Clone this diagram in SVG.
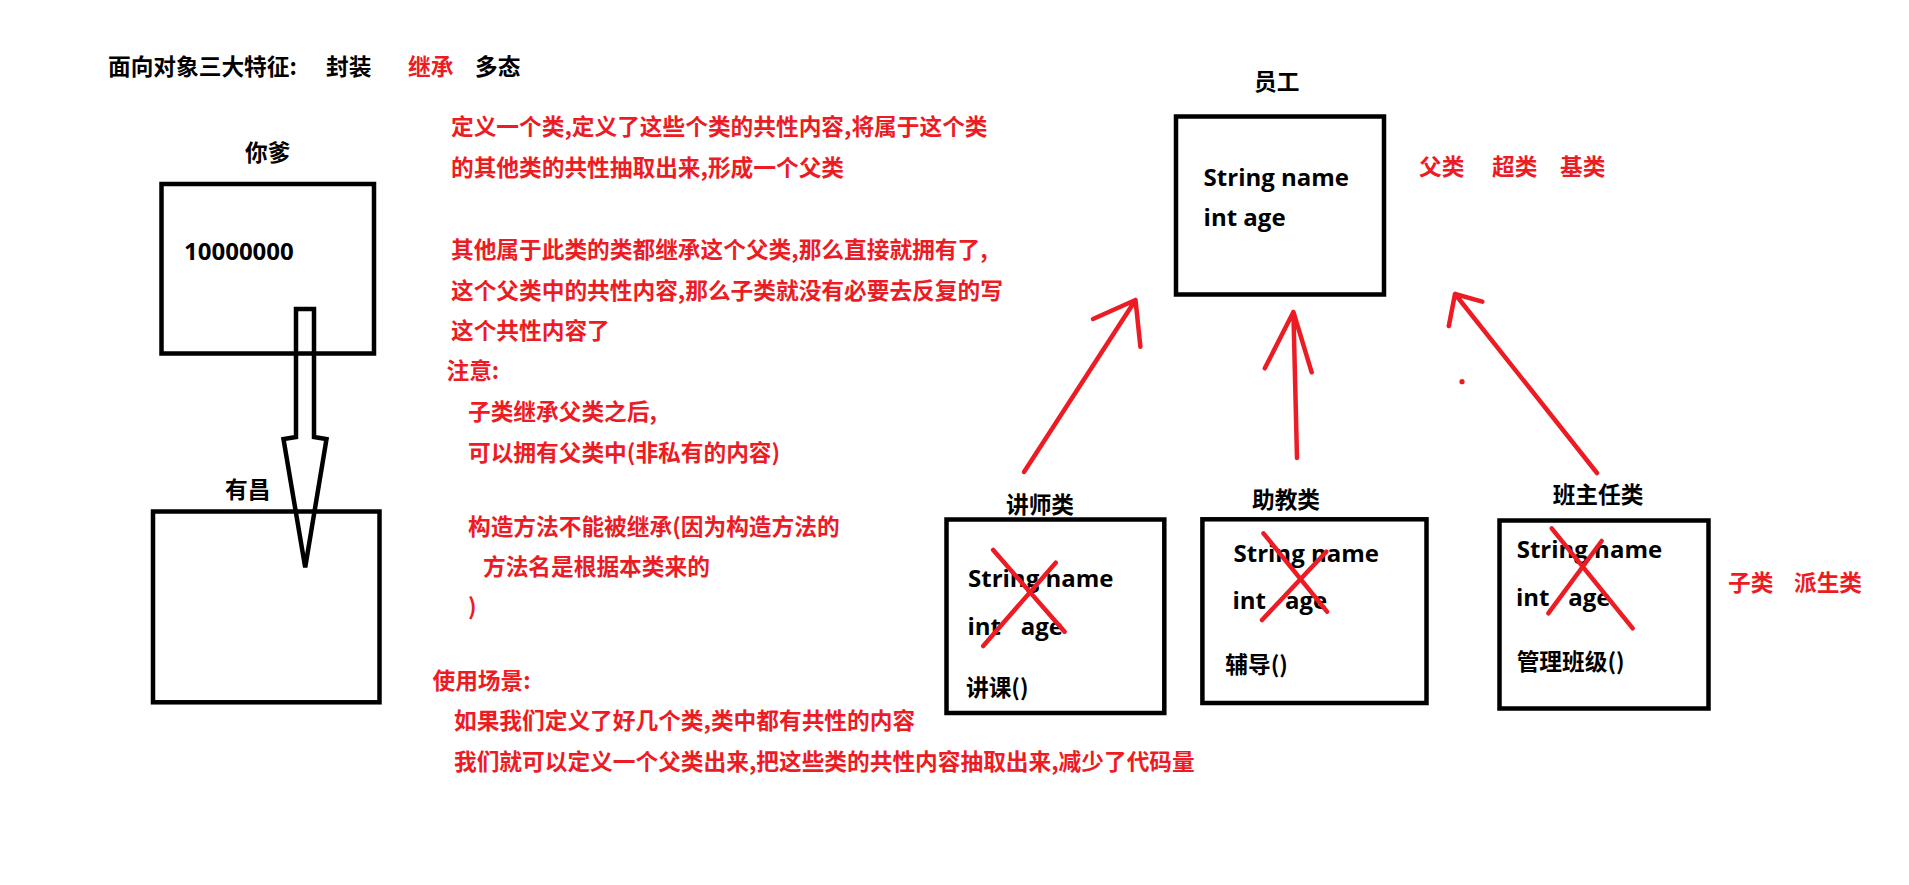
<svg xmlns="http://www.w3.org/2000/svg" width="1909" height="885" viewBox="0 0 1909 885">
<style>
.t{font-family:"Noto Sans CJK SC","Noto Sans",sans-serif;font-size:22.7px;font-weight:700}
.l{font-family:"Open Sans","Noto Sans CJK SC",sans-serif;font-size:24px;font-weight:700}
.k{fill:#000}
.r{fill:#ED1C24}
.box{fill:none;stroke:#000;stroke-width:4.5}
.rl{fill:none;stroke:#ED1C24;stroke-width:4.5;stroke-linecap:round;stroke-linejoin:round}
.bl{fill:none;stroke:#000;stroke-width:4.5;stroke-linejoin:miter}
</style>
<rect width="1909" height="885" fill="#fff"/>

<g id="title">
<text class="t k" x="108" y="75">面向对象三大特征:</text>
<text class="t k" x="326" y="75">封装</text>
<text class="t r" x="408" y="75">继承</text>
<text class="t k" x="475" y="75">多态</text>
</g>

<g id="node-nidie">
<text class="t k" x="245" y="161">你爹</text>
<rect class="box" x="161.5" y="184" width="212.5" height="169.5"/>
<text class="l k" x="184" y="260">10000000</text>
</g>

<g id="node-youchang">
<text class="t k" x="225" y="498">有昌</text>
<rect class="box" x="153" y="511.5" width="226.5" height="190.8"/>
</g>

<g id="notes">
<text class="t r" x="451" y="135">定义一个类,定义了这些个类的共性内容,将属于这个类</text>
<text class="t r" x="451" y="176">的其他类的共性抽取出来,形成一个父类</text>
<text class="t r" x="451" y="258">其他属于此类的类都继承这个父类,那么直接就拥有了,</text>
<text class="t r" x="451" y="299">这个父类中的共性内容,那么子类就没有必要去反复的写</text>
<text class="t r" x="451" y="339">这个共性内容了</text>
<text class="t r" x="446.5" y="379">注意:</text>
<text class="t r" x="468" y="420">子类继承父类之后,</text>
<text class="t r" x="468" y="461">可以拥有父类中(非私有的内容)</text>
<text class="t r" x="468" y="535">构造方法不能被继承(因为构造方法的</text>
<text class="t r" x="483" y="575">方法名是根据本类来的</text>
<text class="t r" x="468" y="615">)</text>
<text class="t r" x="432.5" y="689">使用场景:</text>
<text class="t r" x="454" y="729">如果我们定义了好几个类,类中都有共性的内容</text>
<text class="t r" x="454" y="770">我们就可以定义一个父类出来,把这些类的共性内容抽取出来,减少了代码量</text>
<text class="t r" x="1419" y="175">父类</text>
<text class="t r" x="1492" y="175">超类</text>
<text class="t r" x="1560" y="175">基类</text>
<text class="t r" x="1728" y="591">子类</text>
<text class="t r" x="1794" y="591">派生类</text>
</g>

<g id="node-yuangong">
<text class="t k" x="1254" y="90">员工</text>
<rect class="box" x="1176" y="116.5" width="208" height="178"/>
<text class="l k" x="1203.6" y="185.5">String name</text>
<text class="l k" x="1203.6" y="226">int age</text>
</g>

<g id="node-jiangshi">
<text class="t k" x="1006" y="513">讲师类</text>
<rect class="box" x="946.5" y="519.5" width="217.8" height="193.5"/>
<text class="l k" x="968" y="586.5">String name</text>
<text class="l k" x="967.5" y="635">int<tspan x="1020.7">age</tspan></text>
<text class="t k" x="966" y="696">讲课()</text>
<path class="rl" d="M993.2 550L1064.6 631.7M1055.7 562.7L983.2 646"/>
</g>

<g id="node-zhujiao">
<text class="t k" x="1252" y="508">助教类</text>
<rect class="box" x="1202.4" y="519.3" width="224.1" height="183.7"/>
<text class="l k" x="1233.5" y="561.7">String name</text>
<text class="l k" x="1232.4" y="609.3">int<tspan x="1284.9">age</tspan></text>
<text class="t k" x="1225.3" y="673">辅导()</text>
<path class="rl" d="M1263.5 533.3L1327 611.7M1326.3 551.7L1262 620"/>
</g>

<g id="node-banzhuren">
<text class="t k" x="1552.7" y="503">班主任类</text>
<rect class="box" x="1499.5" y="520.5" width="209" height="188"/>
<text class="l k" x="1516.7" y="558.3">String name</text>
<text class="l k" x="1516" y="606">int<tspan x="1568.3">age</tspan></text>
<text class="t k" x="1516.7" y="670">管理班级()</text>
<path class="rl" d="M1551.7 528.3L1632.7 628.3M1601.7 541L1548.3 613.3"/>
</g>

<g id="connectors">
<path class="bl" d="M296 309L296 437L283.5 439L305.2 567.5L326.5 439L314 437L314 309Z"/>
<path class="rl" d="M1024 472L1135.5 300M1093 319L1135.5 300L1140.4 346.7"/>
<path class="rl" d="M1297 458L1293.4 312M1264.8 368.3L1293.4 312L1311.7 372.3"/>
<path class="rl" d="M1597 473L1455 294M1482.3 301.7L1455 294L1448.8 326"/>
<circle cx="1462" cy="381.7" r="2.6" fill="#ED1C24"/>
</g>
</svg>
